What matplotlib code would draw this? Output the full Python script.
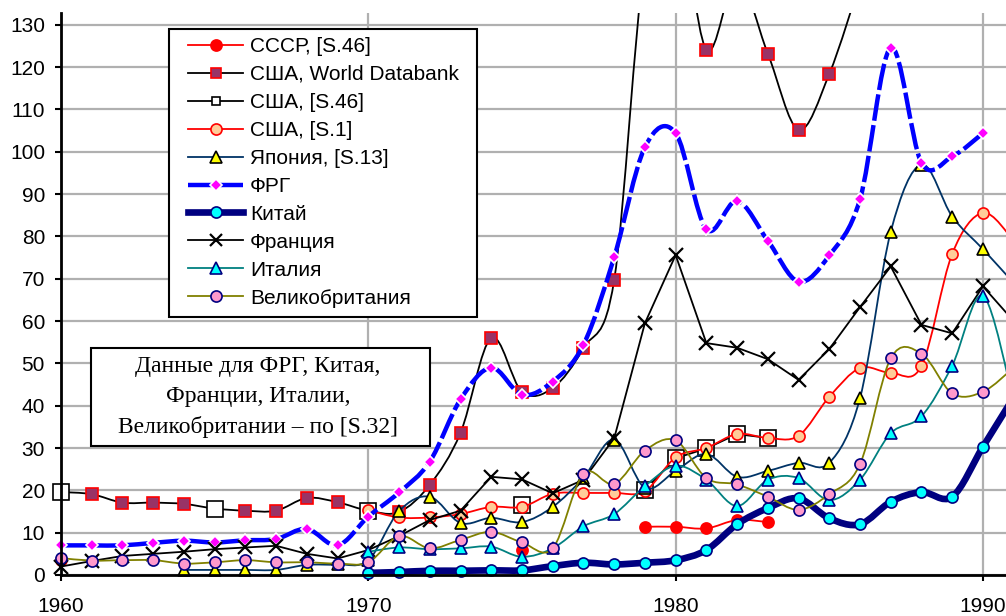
import numpy as np
import matplotlib
matplotlib.use("Agg")
import matplotlib.pyplot as plt
from matplotlib.path import Path
from matplotlib.patches import PathPatch, Rectangle
from matplotlib.lines import Line2D

plt.rcParams["font.family"] = ["Liberation Sans", "DejaVu Sans"]

W, H = 1006, 616

# --- data ---
ussr_years = [1960, 1975, 1979, 1980, 1981, 1982, 1983]
ussr_vals = [3.5, 5.9, 11.4, 11.4, 11.0, 13.0, 12.5]

usa_wdb_years = list(range(1960, 1987))
usa_wdb_vals = [19.6, 19.1, 17.1, 17.1, 16.8, 15.7, 15.2, 15.2, 18.2, 17.2,
                15.2, 14.9, 21.3, 33.6, 56.0, 43.3, 44.2, 53.6, 69.7, 145.0,
                160.0, 124.1, 141.0, 123.2, 105.2, 118.4, 140.0]

usa_s46_years = [1960, 1965, 1970, 1975, 1979, 1980, 1981, 1982, 1983]
usa_s46_vals = [19.6, 15.7, 15.2, 16.6, 20.1, 27.6, 29.9, 33.3, 32.4]

usa_s1_years = list(range(1970, 1992))
usa_s1_vals = [15.3, 13.6, 13.6, 14.4, 16.1, 16.1, 19.2, 19.4, 19.4, 19.8,
               27.8, 30.0, 33.3, 32.4, 32.9, 42.1, 48.9, 47.8, 49.4, 75.9,
               85.6, 79.0]

japan_years = list(range(1964, 1992))
japan_vals = [1.2, 1.2, 1.2, 1.2, 2.4, 2.5, 3.5, 15.1, 18.5, 12.3,
              13.5, 12.5, 16.1, 23.0, 32.0, 20.6, 24.6, 28.6, 23.2, 24.6,
              26.5, 26.5, 41.8, 81.1, 97.0, 84.7, 77.0, 69.0]

frg_years = list(range(1960, 1991))
frg_vals = [7.0, 7.0, 7.0, 7.6, 8.1, 7.7, 8.2, 8.5, 10.9, 7.0,
            13.8, 19.5, 26.8, 41.5, 49.0, 42.6, 45.7, 54.4, 75.1, 101.1,
            104.4, 81.7, 88.4, 79.0, 69.3, 75.5, 88.8, 124.6, 97.4, 98.9,
            104.4]

china_years = list(range(1970, 1992))
china_vals = [0.5, 0.7, 1.0, 1.0, 1.1, 1.1, 2.1, 2.9, 2.5, 2.9,
              3.5, 5.9, 12.0, 15.8, 18.1, 13.4, 12.0, 17.3, 19.6, 18.5,
              30.3, 42.0]

france_years = list(range(1960, 1992))
france_vals = [2.0, 3.3, 4.5, 5.0, 5.5, 6.1, 6.5, 6.9, 5.0, 3.9,
               5.9, 9.2, 13.0, 15.2, 23.2, 22.6, 19.3, 22.5, 32.3, 59.5,
               75.6, 54.8, 53.7, 51.0, 46.1, 53.4, 63.3, 72.9, 59.1, 57.1,
               68.2, 60.0]

italy_years = list(range(1970, 1992))
italy_vals = [5.5, 6.5, 6.1, 6.3, 6.7, 4.3, 6.3, 11.5, 14.4, 21.0,
              25.8, 22.5, 16.3, 22.5, 22.9, 17.7, 22.5, 33.5, 37.5, 49.5,
              66.0, 41.0]

uk_years = list(range(1960, 1992))
uk_vals = [4.0, 3.4, 3.5, 3.5, 2.7, 3.0, 3.5, 3.0, 3.0, 2.7,
           3.0, 9.2, 6.3, 8.3, 10.2, 7.7, 6.3, 23.9, 21.5, 29.4,
           31.8, 22.9, 21.4, 18.5, 15.4, 19.1, 26.2, 51.2, 52.3, 42.9,
           43.3, 49.0]

annotation = "Данные для ФРГ, Китая,\nФранции, Италии,\nВеликобритании – по [S.32]"


def series_path(xs, ys, smooth):
    # Excel-like smoothed line: cubic Bezier through the points (Catmull-Rom)
    xs = np.asarray(xs, float)
    ys = np.asarray(ys, float)
    breaks = np.where(np.diff(xs) != 1)[0] + 1
    verts, codes = [], []
    for run in np.split(np.arange(len(xs)), breaks):
        if len(run) < 2:
            continue
        pts = np.column_stack([xs[run], ys[run]])
        n = len(pts)
        verts.append(pts[0])
        codes.append(Path.MOVETO)
        for i in range(n - 1):
            if smooth:
                p0, p1 = pts[max(i - 1, 0)], pts[i]
                p2, p3 = pts[i + 1], pts[min(i + 2, n - 1)]
                verts += [p1 + (p2 - p0) / 6, p2 - (p3 - p1) / 6, p2]
                codes += [Path.CURVE4] * 3
            else:
                verts.append(pts[i + 1])
                codes.append(Path.LINETO)
    if not verts:
        return None
    return Path(verts, codes)


def fig_box(x0, y0, x1, y1):
    # pixel box (from top-left) -> figure-fraction rectangle
    return Rectangle((x0 / W, 1 - y1 / H), (x1 - x0) / W, (y1 - y0) / H,
                     transform=fig.transFigure, fc="white", ec="black",
                     lw=1.5, zorder=5)


fig = plt.figure(figsize=(W / 100, H / 100), dpi=100)
ax = fig.add_axes([61 / W, 41 / H, 945 / W, 562 / H])
ax.set_xlim(1960, 1990.75)
ax.set_ylim(0, 132.8)

series = [
    dict(x=ussr_years, y=ussr_vals, color="#ff0000", lw=1.3, smooth=True,
         marker="o", ms=8, mfc="#ff0000", mec="#ff0000", lms=8,
         label="СССР, [S.46]"),
    dict(x=usa_wdb_years, y=usa_wdb_vals, color="black", lw=1.3, smooth=True,
         marker="s", ms=8, mfc="#993366", mec="#ff0000", lms=7,
         label="США, World Databank"),
    dict(x=usa_s46_years, y=usa_s46_vals, color="black", lw=1.3, smooth=False,
         marker="s", ms=12, mfc="white", mec="black", lms=6,
         label="США, [S.46]"),
    dict(x=usa_s1_years, y=usa_s1_vals, color="#ff0000", lw=1.3, smooth=True,
         marker="o", ms=8, mfc="#ffcc99", mec="#ff0000", lms=8,
         label="США, [S.1]"),
    dict(x=japan_years, y=japan_vals, color="#003366", lw=1.3, smooth=True,
         marker="^", ms=9, mfc="#ffff00", mec="black", lms=9,
         label="Япония, [S.13]"),
    dict(x=frg_years, y=frg_vals, color="#0000ff", lw=3.2, smooth=True,
         ls=(0, (6, 1.0)), marker="D", ms=6, mfc="#ff00ff", mec="white",
         lms=6, label="ФРГ"),
    dict(x=china_years, y=china_vals, color="#000080", lw=4.8, smooth=True,
         marker="o", ms=8, mfc="#00ffff", mec="#000080", lms=8,
         label="Китай"),
    dict(x=france_years, y=france_vals, color="black", lw=1.3, smooth=False,
         marker="x", ms=10, mfc="black", mec="black", lms=9,
         label="Франция"),
    dict(x=italy_years, y=italy_vals, color="#008080", lw=1.3, smooth=True,
         marker="^", ms=9, mfc="#00ffff", mec="#000080", lms=9,
         label="Италия"),
    dict(x=uk_years, y=uk_vals, color="#808000", lw=1.3, smooth=True,
         marker="o", ms=8, mfc="#ff99cc", mec="#000080", lms=8,
         label="Великобритания"),
]

handles = []
for i, s in enumerate(series):
    ls = s.get("ls", "-")
    path = series_path(s["x"], s["y"], s["smooth"])
    if path is not None:
        patch = PathPatch(path, fill=False, edgecolor=s["color"], lw=s["lw"],
                          linestyle=ls, zorder=3 + i * 0.1,
                          capstyle="butt", joinstyle="round")
        ax.add_patch(patch)
    mew = 1.6 if s["marker"] == "x" else 1.2
    ax.plot(s["x"], s["y"], linestyle="none", marker=s["marker"], ms=s["ms"],
            mfc=s["mfc"], mec=s["mec"], mew=mew, zorder=3.05 + i * 0.1,
            clip_on=False)
    handles.append(Line2D([], [], color=s["color"], lw=s["lw"], linestyle=ls,
                          marker=s["marker"], ms=s["lms"], mfc=s["mfc"],
                          mec=s["mec"], mew=mew, label=s["label"]))

# axes styling
ax.set_yticks(np.arange(0, 131, 10))
ax.set_xticks([1960, 1970, 1980, 1990])
ax.grid(True, color="#b0b0b0", lw=1.6, zorder=0)
ax.set_axisbelow(True)
for side in ("top", "right"):
    ax.spines[side].set_visible(False)
for side in ("left", "bottom"):
    ax.spines[side].set_linewidth(2)
    ax.spines[side].set_zorder(10)
ax.tick_params(axis="both", direction="out", length=4, width=1.5,
               labelsize=15, colors="black")
ax.tick_params(axis="x", pad=11.5)
ax.tick_params(axis="y", pad=7.5)

# legend box and legend
fig.add_artist(fig_box(169, 29, 477, 317))
leg = fig.legend(handles=handles, loc="upper left",
                 bbox_to_anchor=(188 / W, 1 - 37 / H),
                 bbox_transform=fig.transFigure, borderaxespad=0,
                 borderpad=0, frameon=False,
                 prop={"family": "Liberation Sans", "size": 15},
                 labelspacing=0.43, handlelength=2.64, handletextpad=0.34)
leg.set_zorder(6)

# note box
fig.add_artist(fig_box(91, 348, 430, 446))
fig.text(258 / W, 1 - 397 / H, annotation, ha="center", va="center",
         multialignment="center", family="Liberation Serif", fontsize=17,
         linespacing=1.55, zorder=6)

fig.savefig("out.png", dpi=100)
